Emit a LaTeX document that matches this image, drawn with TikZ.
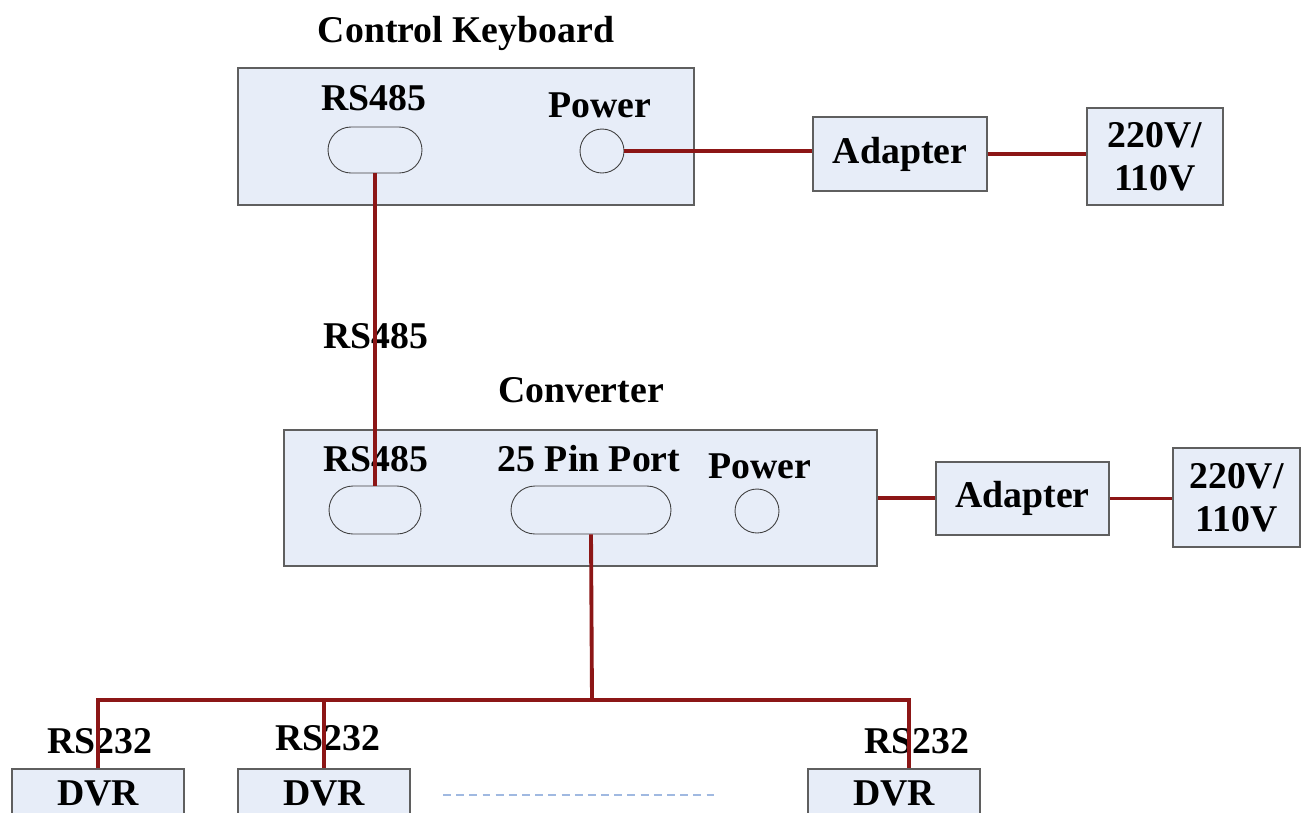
\documentclass[tikz,border=0pt]{standalone}
\usepackage{fontspec}
\setmainfont{Liberation Serif}
\usetikzlibrary{positioning,shapes.misc}
\definecolor{panel}{RGB}{231,237,248}
\definecolor{edge}{RGB}{95,95,95}
\definecolor{cable}{RGB}{140,22,22}
\definecolor{gapline}{RGB}{160,185,225}

\begin{document}
\begin{tikzpicture}[x=0.02cm, y=-0.02cm,
    every node/.style={font=\fontsize{21.5}{24.5}\selectfont\bfseries},
    box/.style={draw=edge, fill=panel, line width=0.9pt, inner sep=0pt, align=center},
    port/.style={draw=black!75, rounded rectangle, line width=0.5pt, inner sep=0pt},
    jack/.style={draw=black!75, circle, line width=0.5pt, inner sep=0pt, minimum size=0.88cm},
    tag/.style={anchor=base, inner sep=0pt},
    wire/.style={draw=cable, line width=2.2pt}
  ]
    \useasboundingbox (0,0) rectangle (1301,812);
    \fill[white] (0,0) rectangle (1301,812);
    \clip (0,0) rectangle (1301,812);

    % keyboard side
    \node[tag]  (kbtitle) at (466,42) {Control Keyboard};
    \node[box, minimum width=9.12cm, minimum height=2.74cm] (kb) at (466,136.5) {};
    \node[tag]  (kbrslbl) at (374,110) {RS485};
    \node[tag]  (kbpwlbl) at (600,117) {Power};
    \node[port, minimum width=1.88cm, minimum height=0.92cm] (kbrs) at (375,150) {};
    \node[jack] (kbpw) at (602,151) {};
    \node[box, minimum width=3.48cm, minimum height=1.48cm] (adapt1) at (900,154) {Adapter};
    \node[box, minimum width=2.72cm, minimum height=1.94cm] (mains1) at (1155,156.5) {220V/\\110V};

    \node[tag]  (buslbl) at (376,348) {RS485};

    % converter side
    \node[tag]  (cvtitle) at (581,402) {Converter};
    \node[box, minimum width=11.86cm, minimum height=2.72cm] (conv) at (580.5,498) {};
    \node[tag]  (cvrslbl) at (376,471) {RS485};
    \node[tag]  (cvpinlbl) at (589,471) {25 Pin Port};
    \node[tag]  (cvpwlbl) at (760,478) {Power};
    \node[port, minimum width=1.84cm, minimum height=0.96cm] (cvrs) at (375,510) {};
    \node[port, minimum width=3.2cm, minimum height=0.96cm] (cvpin) at (591,510) {};
    \node[jack] (cvpw) at (757,511) {};
    \node[box, minimum width=3.46cm, minimum height=1.46cm] (adapt2) at (1022.5,498.5) {Adapter};
    \node[box, minimum width=2.54cm, minimum height=1.98cm] (mains2) at (1236.5,497.5) {220V/\\110V};

    % recorders
    \node[tag]  (rs1) at (100,753) {RS232};
    \node[tag]  (rs2) at (328,750) {RS232};
    \node[tag]  (rs3) at (917,753) {RS232};
    \node[box, minimum width=3.44cm, minimum height=0.96cm] (dvr1) at (98,793)  {DVR};
    \node[box, minimum width=3.44cm, minimum height=0.96cm] (dvr2) at (324,793) {DVR};
    \node[box, minimum width=3.44cm, minimum height=0.96cm] (dvr3) at (894,793) {DVR};
    \coordinate (tap)  at (592,700);
    \coordinate (gapl) at (443,795);
    \coordinate (gapr) at (715,795);

    \draw[wire] (kbpw.east) -- (kbpw.east -| adapt1.west);
    \draw[wire] (adapt1.east) -- (adapt1.east -| mains1.west);
    \draw[wire] (kbrs.south) -- (cvrs.north);
    \draw[wire] (conv.east) -- (conv.east -| adapt2.west);
    \draw[wire] (adapt2.east) -- (adapt2.east -| mains2.west);
    \draw[wire] (cvpin.south) -- (tap);
    \draw[wire] (dvr1.north) |- (tap) -| ([xshift=0.3cm]dvr3.north);
    \draw[wire] (dvr2.north) -- (dvr2.north |- tap);
    \draw[gapline, line width=1.2pt, dash pattern=on 4.5pt off 3pt] (gapl) -- (gapr);
\end{tikzpicture}
\end{document}
